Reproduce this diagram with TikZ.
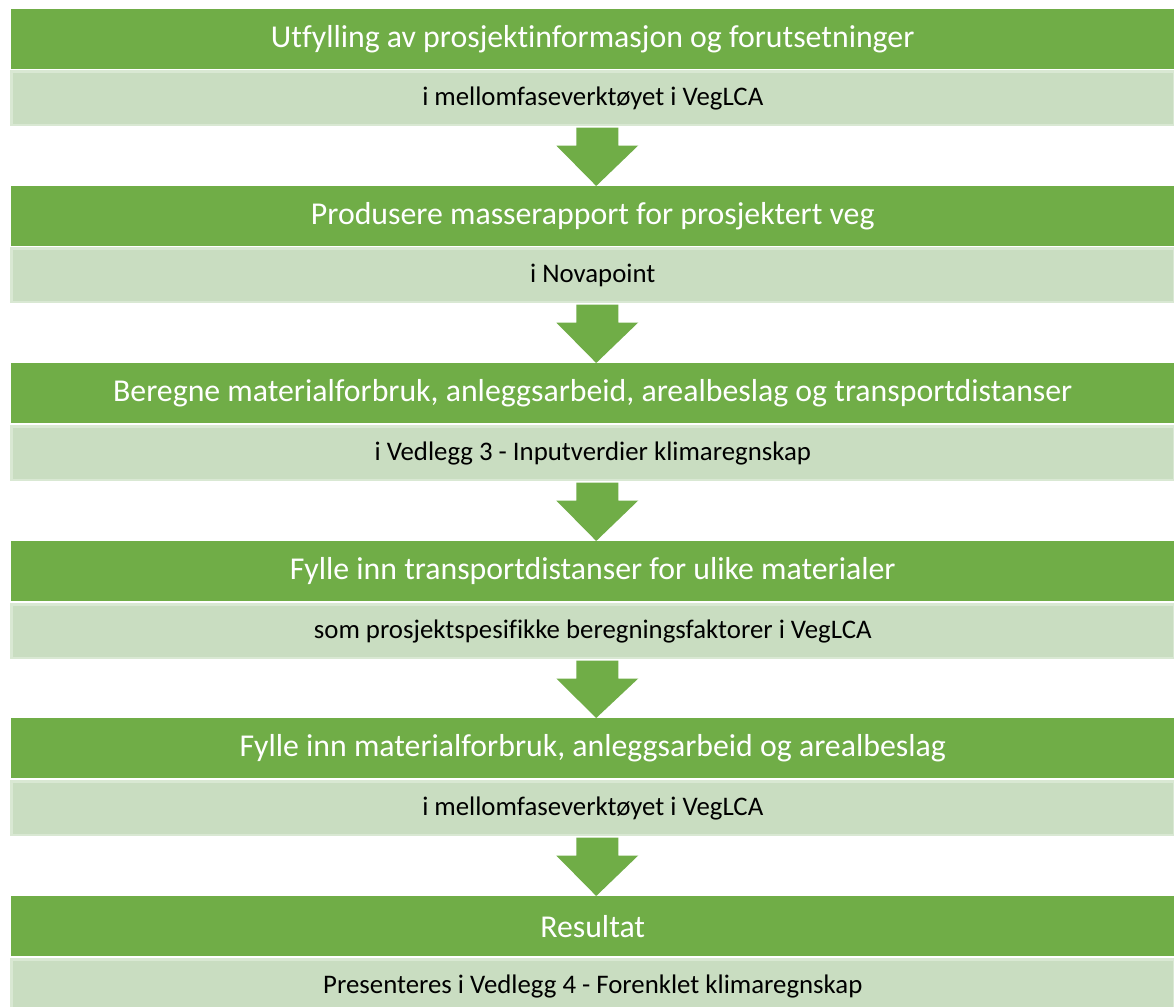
\documentclass[tikz,border=0pt]{standalone}
\usepackage{fontspec}
\setmainfont{Carlito}[RawFeature={-liga}]
\usetikzlibrary{calc}
\definecolor{dgreen}{HTML}{70AD47}
\definecolor{lgreen}{HTML}{C9DDC1}
\definecolor{lborder}{HTML}{D9E8D3}
\tikzset{
  x=1pt, y=1pt,
  titlebar/.style={fill=dgreen, draw=none, minimum width=1163pt, minimum height=60pt,
    inner sep=0pt, text=white, font=\fontsize{31.8}{34}\selectfont, anchor=north west},
  subbar/.style={fill=lgreen, draw=lborder, line width=2.5pt, minimum width=1162.5pt, minimum height=53.5pt,
    inner sep=0pt, text=black, font=\fontsize{26.8}{30}\selectfont, anchor=north west},
  flowarrow/.style={fill=dgreen, draw=none}
}
\newcommand{\flowdown}[2]{%
  \fill[flowarrow] ($(#1.south)+(-16.5,-1.25)$) -- ($(#1.south)+(25.5,-1.25)$)
    -- ($(#1.south)+(25.5,-19.25)$) -- ($(#1.south)+(45.5,-19.25)$)
    -- ($(#2.north)+(3.5,0)$)
    -- ($(#1.south)+(-36.5,-19.25)$) -- ($(#1.south)+(-16.5,-19.25)$) -- cycle;}
\begin{document}
\begin{tikzpicture}
\fill[white] (0,0) rectangle (1174,-1006);
\useasboundingbox (0,0) rectangle (1174,-1006);
% block 1
\node[titlebar] (t1) at (11,-9) {Utfylling av prosjektinformasjon og forutsetninger};
\node[subbar] (s1) at (10.25,-70.25) {i mellomfaseverktøyet i VegLCA};
% block 2
\node[titlebar] (t2) at (11,-186) {Produsere masserapport for prosjektert veg};
\node[subbar] (s2) at (10.25,-247.25) {i Novapoint};
% block 3
\node[titlebar] (t3) at (11,-363) {Beregne materialforbruk, anleggsarbeid, arealbeslag og transportdistanser};
\node[subbar] (s3) at (10.25,-425.25) {i Vedlegg 3 - Inputverdier klimaregnskap};
% block 4
\node[titlebar] (t4) at (11,-541) {Fylle inn transportdistanser for ulike materialer};
\node[subbar] (s4) at (10.25,-603.25) {som prosjektspesifikke beregningsfaktorer i VegLCA};
% block 5
\node[titlebar] (t5) at (11,-718) {Fylle inn materialforbruk, anleggsarbeid og arealbeslag};
\node[subbar] (s5) at (10.25,-780.25) {i mellomfaseverktøyet i VegLCA};
% block 6
\node[titlebar] (t6) at (11,-896) {Resultat};
\node[subbar] (s6) at (10.25,-958.25) {Presenteres i Vedlegg 4 - Forenklet klimaregnskap};
% arrows
\flowdown{s1}{t2}
\flowdown{s2}{t3}
\flowdown{s3}{t4}
\flowdown{s4}{t5}
\flowdown{s5}{t6}
\end{tikzpicture}
\end{document}
